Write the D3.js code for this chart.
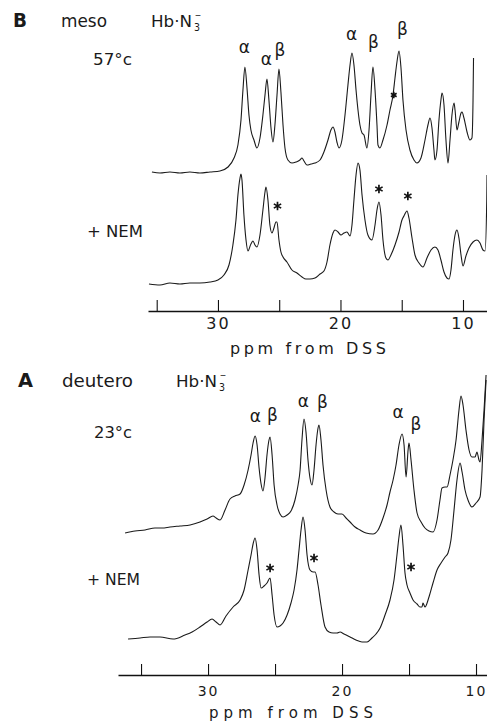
<!DOCTYPE html>
<html>
<head>
<meta charset="utf-8">
<script src="https://cdn.jsdelivr.net/npm/d3@7"></script>
<style>
  body { margin: 0; background: #fff; }
  svg { display: block; }
  text { font-family: "DejaVu Sans", sans-serif; fill: #1a1a1a; }
</style>
</head>
<body>
<svg id="chart" width="487" height="721"></svg>
<script>
// ---- data: [ppm, intensity (arb.)] ----
const meso57 = [
  [35.39,0],[34.73,-1],[33.92,0],[33.10,-1],[32.29,0],[31.47,-1],[30.65,0],[29.84,1],[29.18,5],
  [28.69,14],[28.37,27],[28.12,52],[27.96,82],[27.80,105],[27.63,84],[27.47,57],[27.31,42],
  [27.06,32],[26.82,24],[26.57,34],[26.33,57],[26.16,77],[26.00,93],[25.84,72],[25.67,44],
  [25.51,30],[25.35,47],[25.18,77],[25.02,103],[24.86,80],[24.69,47],[24.53,24],[24.29,12],
  [23.96,9],[23.63,10],[23.31,12],[23.14,14],[22.98,11],[22.73,7],[22.41,8],[22.08,9],
  [21.67,12],[21.35,20],[21.02,32],[20.78,42],[20.61,45],[20.45,40],[20.29,30],[20.12,24],
  [19.88,32],[19.63,57],[19.39,87],[19.22,107],[19.06,119],[18.90,107],[18.73,82],[18.57,62],
  [18.41,47],[18.24,39],[18.08,37],[17.84,24],[17.67,42],[17.51,77],[17.35,105],[17.18,82],
  [17.02,47],[16.94,27],[16.78,24],[16.53,32],[16.20,47],[15.96,62],[15.71,77],[15.55,94],
  [15.39,110],[15.22,121],[15.06,104],[14.90,72],[14.65,42],[14.33,22],[14.00,12],[13.76,9],
  [13.43,14],[13.10,32],[12.86,47],[12.69,54],[12.53,44],[12.37,22],[12.29,12],[12.12,22],
  [11.96,52],[11.80,72],[11.71,79],[11.55,67],[11.39,32],[11.22,9],[11.06,32],[10.90,57],
  [10.73,69],[10.65,62],[10.49,42],[10.33,50],[10.16,59],[10.08,60],[9.92,54],[9.67,40],
  [9.43,32],[9.27,34],[9.18,72],[9.14,114]
];

const mesoNEM = [
  [35.63,0],[34.73,-1],[33.92,1],[33.10,0],[32.29,1],[31.47,1],[30.65,2],[30.00,4],[29.51,9],
  [29.10,19],[28.78,39],[28.53,64],[28.37,89],[28.20,106],[28.12,110],[28.04,104],[27.88,69],
  [27.71,44],[27.55,33],[27.31,40],[27.14,43],[26.98,39],[26.82,37],[26.57,49],[26.33,74],
  [26.16,92],[26.08,97],[25.92,84],[25.76,59],[25.59,51],[25.43,56],[25.27,62],[25.18,62],
  [25.02,44],[24.86,32],[24.69,27],[24.37,22],[23.96,14],[23.55,11],[23.14,7],[22.82,5],
  [22.49,5],[22.08,6],[21.67,10],[21.35,13],[21.10,22],[20.86,39],[20.61,51],[20.45,54],
  [20.20,52],[19.96,49],[19.71,51],[19.47,52],[19.22,48],[19.06,59],[18.90,84],[18.73,109],
  [18.57,121],[18.41,114],[18.24,89],[18.00,64],[17.76,49],[17.43,44],[17.18,59],[17.02,74],
  [16.86,82],[16.69,69],[16.53,44],[16.29,26],[16.12,24],[15.88,29],[15.55,39],[15.22,52],
  [14.98,64],[14.82,68],[14.57,73],[14.41,66],[14.16,46],[13.92,29],[13.59,21],[13.27,17],
  [12.94,26],[12.61,34],[12.29,37],[12.04,34],[11.80,24],[11.55,12],[11.31,6],[11.14,5],
  [10.98,14],[10.82,34],[10.65,49],[10.49,54],[10.33,46],[10.16,29],[10.00,18],[9.76,28],
  [9.51,36],[9.18,42],[8.86,44],[8.61,41],[8.37,34],[8.20,33],[8.06,84],[8.04,109]
];

const deutero23 = [
  [36.19,0],[35.45,2],[34.70,3],[33.96,5],[33.43,5],[32.84,6],[32.09,7],[31.34,8],[30.60,11],
  [30.07,14],[29.63,17],[29.40,15],[29.10,13],[28.73,23],[28.36,34],[27.99,37],[27.61,39],
  [27.31,48],[27.01,63],[26.79,78],[26.64,90],[26.49,97],[26.34,88],[26.19,65],[26.04,49],
  [25.90,42],[25.75,55],[25.60,78],[25.45,93],[25.37,96],[25.22,78],[25.07,48],[24.85,28],
  [24.63,19],[24.40,16],[24.10,18],[23.81,22],[23.51,33],[23.28,48],[23.13,63],[22.99,93],
  [22.84,114],[22.69,101],[22.54,73],[22.39,55],[22.24,48],[22.09,63],[21.94,88],[21.79,105],
  [21.72,108],[21.57,93],[21.42,68],[21.19,43],[20.90,26],[20.60,21],[20.30,19],[20.00,19],
  [19.70,15],[19.40,11],[19.03,6],[18.66,3],[18.21,0],[17.69,-1],[17.31,3],[16.94,15],
  [16.64,28],[16.42,41],[16.19,53],[15.97,68],[15.75,88],[15.52,99],[15.37,88],[15.22,56],
  [15.07,83],[15.00,90],[14.85,73],[14.63,43],[14.40,20],[14.10,11],[13.81,5],[13.51,2],
  [13.21,1],[12.91,13],[12.69,33],[12.54,45],[12.31,46],[12.16,46],[11.94,58],[11.72,73],
  [11.49,93],[11.27,123],[11.12,137],[10.97,128],[10.75,103],[10.52,83],[10.30,76],[10.07,76],
  [9.93,81],[9.78,73],[9.70,71],[9.55,93],[9.40,123],[9.25,158]
];

const deuteroNEM = [
  [35.97,0],[35.07,1],[34.33,2],[33.58,2],[32.61,0],[31.72,4],[31.19,7],[30.60,12],[30.07,17],
  [29.70,20],[29.40,17],[29.10,14],[28.66,23],[28.13,32],[27.61,39],[27.31,49],[27.01,69],
  [26.79,84],[26.64,95],[26.49,101],[26.34,89],[26.19,64],[26.04,51],[25.82,53],[25.60,56],
  [25.37,61],[25.22,44],[25.07,24],[24.85,12],[24.63,13],[24.40,16],[24.10,24],[23.81,36],
  [23.58,49],[23.36,69],[23.21,89],[23.06,109],[22.91,122],[22.76,109],[22.61,84],[22.39,69],
  [22.16,67],[22.01,67],[21.79,54],[21.57,34],[21.27,12],[20.97,7],[20.67,6],[20.37,6],
  [20.15,7],[19.85,5],[19.40,2],[18.96,-1],[18.51,-3],[18.13,-3],[17.76,1],[17.46,5],
  [17.16,11],[16.79,24],[16.42,39],[16.12,59],[15.90,84],[15.75,102],[15.60,114],[15.45,94],
  [15.30,66],[15.15,54],[14.93,46],[14.70,39],[14.40,35],[14.18,32],[14.03,32],[13.96,36],
  [13.81,32],[13.51,42],[13.21,56],[12.91,69],[12.61,76],[12.31,82],[12.09,86],[11.87,99],
  [11.64,129],[11.42,159],[11.19,176],[11.04,167],[10.82,149],[10.60,139],[10.30,132],
  [10.00,136],[9.70,142],[9.55,169],[9.40,219],[9.25,259]
];

// peak assignments and NEM-shifted peaks (ppm, height above trace baseline)
const mesoLabels = [
  { t: "α", ppm: 27.85, h: 119 }, { t: "α", ppm: 26.05, h: 107 }, { t: "β", ppm: 24.95, h: 116 },
  { t: "α", ppm: 19.10, h: 132 }, { t: "β", ppm: 17.30, h: 124 }, { t: "β", ppm: 14.95, h: 137 }
];
const mesoStarsTop = [{ ppm: 15.65, h: 77 }];
const mesoStarsNEM = [{ ppm: 25.14, h: 78 }, { ppm: 16.86, h: 95 }, { ppm: 14.50, h: 88 }];

const deuteroLabels = [
  { t: "α", ppm: 26.46, h: 111 }, { t: "β", ppm: 25.19, h: 112 }, { t: "α", ppm: 22.88, h: 126 },
  { t: "β", ppm: 21.46, h: 125 }, { t: "α", ppm: 15.82, h: 115 }, { t: "β", ppm: 14.48, h: 103 }
];
const deuteroStarsNEM = [{ ppm: 25.37, h: 71 }, { ppm: 22.09, h: 81 }, { ppm: 14.85, h: 72 }];

const ticks = [35, 30, 25, 20, 15, 10];

const svg = d3.select("#chart");

// ---- panel B (meso, 57 C) ----
const xB = d3.scaleLinear().domain([35.71, 8.04]).range([148, 487]);
const yB1 = d3.scaleLinear().domain([0, 100]).range([172, 72]);
const yB2 = d3.scaleLinear().domain([0, 100]).range([284, 184]);

// ---- panel A (deutero, 23 C) ----
const xA = d3.scaleLinear().domain([36.72, 9.18]).range([118, 487]);
const yA1 = d3.scaleLinear().domain([0, 100]).range([533, 433]);
const yA2 = d3.scaleLinear().domain([0, 100]).range([639, 539]);

function trace(data, x, y) {
  const line = d3.line()
    .x(d => x(d[0]))
    .y(d => y(d[1]))
    .curve(d3.curveMonotoneX);
  svg.append("path")
    .datum(data)
    .attr("d", line)
    .attr("fill", "none")
    .attr("stroke", "#1a1a1a")
    .attr("stroke-width", 1.1)
    .attr("stroke-linejoin", "round");
}

function labels(data, x, y, size) {
  svg.append("g").selectAll("text")
    .data(data)
    .enter()
    .append("text")
    .attr("x", d => x(d.ppm))
    .attr("y", d => y(d.h))
    .attr("text-anchor", "middle")
    .style("font-size", size + "px")
    .text(d => d.t);
}

function stars(data, x, y, size) {
  svg.append("g").selectAll("path")
    .data(data)
    .enter()
    .append("path")
    .attr("transform", d => `translate(${x(d.ppm)},${y(d.h)})`)
    .attr("d", d3.symbol(d3.symbolAsterisk, size))
    .attr("fill", "none")
    .attr("stroke", "#111")
    .attr("stroke-width", 1.7);
}

function axis(x, yPos, tickLen, pad, fontSize) {
  const g = svg.append("g")
    .attr("transform", `translate(0,${yPos})`)
    .call(
      d3.axisBottom(x)
        .tickValues(ticks)
        .tickSizeInner(-tickLen)
        .tickSizeOuter(0)
        .tickPadding(pad)
        .tickFormat(d => (d % 10 === 0 ? d : ""))
    );
  g.select(".domain").attr("stroke", "#111").attr("stroke-width", 1.4);
  g.selectAll(".tick line").attr("stroke", "#111").attr("stroke-width", 1.1);
  g.selectAll(".tick text")
    .attr("fill", "#1a1a1a")
    .style("font-family", '"DejaVu Sans", sans-serif')
    .style("font-size", fontSize + "px")
    .style("letter-spacing", "2px");
  return g;
}

function label(str, x, y, size, width, weight) {
  const t = svg.append("text")
    .attr("x", x)
    .attr("y", y)
    .style("font-size", size + "px")
    .style("font-weight", weight || "normal")
    .text(str);
  if (width) t.attr("textLength", width).attr("lengthAdjust", "spacingAndGlyphs");
  return t;
}

function azide(x, y) {
  label("Hb·N", x, y, 16, 41);
  label("3", x + 43, y + 4, 11, 6);
  label("\u2013", x + 44, y - 9, 11, 6);
}

// B
trace(meso57, xB, yB1);
trace(mesoNEM, xB, yB2);
labels(mesoLabels, xB, yB1, 17);
stars(mesoStarsTop, xB, yB1, 30);
stars(mesoStarsNEM, xB, yB2, 50);
axis(xB, 311, 11, 7, 16);

label("B", 13, 27, 19, 14, "bold");
label("meso", 61, 27, 17, 46);
azide(151, 27);
label("57°c", 93, 65, 16, 39);
label("+ NEM", 87, 237, 15, 56);
svg.append("text").attr("x", 308).attr("y", 354).attr("text-anchor", "middle")
  .style("font-size", "16px").attr("textLength", 156).attr("lengthAdjust", "spacing")
  .text("ppm from DSS");

// A
trace(deutero23, xA, yA1);
trace(deuteroNEM, xA, yA2);
labels(deuteroLabels, xA, yA1, 17);
stars(deuteroStarsNEM, xA, yA2, 50);
axis(xA, 675, 11, 11, 14);

label("A", 18, 387, 19, 15, "bold");
label("deutero", 62, 387, 17, 71);
azide(176, 387);
label("23°c", 94, 438, 15, 38);
label("+ NEM", 87, 585, 15, 53);
svg.append("text").attr("x", 291).attr("y", 718).attr("text-anchor", "middle")
  .style("font-size", "15px").attr("textLength", 164).attr("lengthAdjust", "spacing")
  .text("ppm from DSS");
</script>
</body>
</html>
